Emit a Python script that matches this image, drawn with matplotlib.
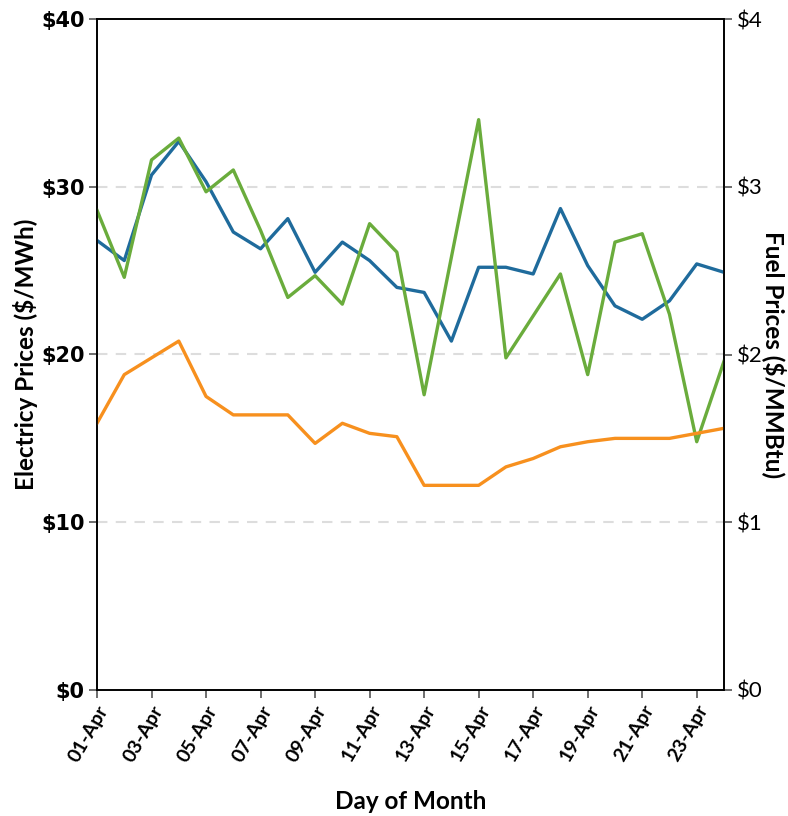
import matplotlib.pyplot as plt
import numpy as np

days = np.arange(1, 25)
day_labels = [f"{d:02d}-Apr" for d in days]

# electricity prices, $/MWh
power_a = [26.8, 25.6, 30.7, 32.7, 30.3, 27.3, 26.3, 28.1, 24.9, 26.7, 25.6, 24.0,
           23.7, 20.8, 25.2, 25.2, 24.8, 28.7, 25.3, 22.9, 22.1, 23.2, 25.4, 24.9]
power_b = [28.6, 24.6, 31.6, 32.9, 29.7, 31.0, 27.4, 23.4, 24.7, 23.0, 27.8, 26.1,
           17.6, 25.8, 34.0, 19.8, 22.3, 24.8, 18.8, 26.7, 27.2, 22.4, 14.8, 19.6]
# fuel price, $/MMBtu
fuel = [1.59, 1.88, 1.98, 2.08, 1.75, 1.64, 1.64, 1.64, 1.47, 1.59, 1.53, 1.51,
        1.22, 1.22, 1.22, 1.33, 1.38, 1.45, 1.48, 1.50, 1.50, 1.50, 1.53, 1.56]

plt.rcParams['font.family'] = ['Lato', 'DejaVu Sans']

fig = plt.figure(figsize=(7.88, 8.16), dpi=100)
ax = fig.add_axes([97 / 788, 1 - 690 / 816, 627 / 788, 671 / 816])
ax2 = ax.twinx()

ax.plot(days, power_a, color='#1f6b9c', lw=2.4, zorder=3)
ax.plot(days, power_b, color='#6aac3c', lw=2.4, zorder=4)
ax2.plot(days, fuel, color='#f7901e', lw=2.4)

ax.set_xlim(1, 24)
ax.set_ylim(0, 40)
ax2.set_ylim(0, 4)
ax.set_yticks([0, 10, 20, 30, 40])
ax.set_yticklabels([f"${v}" for v in [0, 10, 20, 30, 40]], fontsize=15,
                   fontweight='bold', family='DejaVu Sans')
ax2.set_yticks([0, 1, 2, 3, 4])
ax2.set_yticklabels([f"${v}" for v in [0, 1, 2, 3, 4]], fontsize=16)

ax.set_xticks(days[::2])
ax.set_xticklabels(day_labels[::2], rotation=60, ha='right', rotation_mode='anchor',
                   fontsize=14, fontweight='bold')

for y in [10, 20, 30]:
    ax.axhline(y, color='#dddddd', lw=1.5, ls=(0, (5, 4)), zorder=1)

for a in (ax, ax2):
    for s in a.spines.values():
        s.set_linewidth(1.2)
    a.tick_params(axis='both', color='#555555', length=6, width=1.2, pad=3)

ax.set_xlabel('Day of Month', fontsize=17.5, fontweight='bold', labelpad=18)
ax.set_ylabel('Electricy Prices ($/MWh)', fontsize=17.5, fontweight='bold', labelpad=2)
ax2.set_ylabel('Fuel Prices ($/MMBtu)', fontsize=17.5, fontweight='bold',
               rotation=270, labelpad=14)
ax2.yaxis.set_label_coords(1.1, 0.5)

fig.savefig('out.png', dpi=100)
